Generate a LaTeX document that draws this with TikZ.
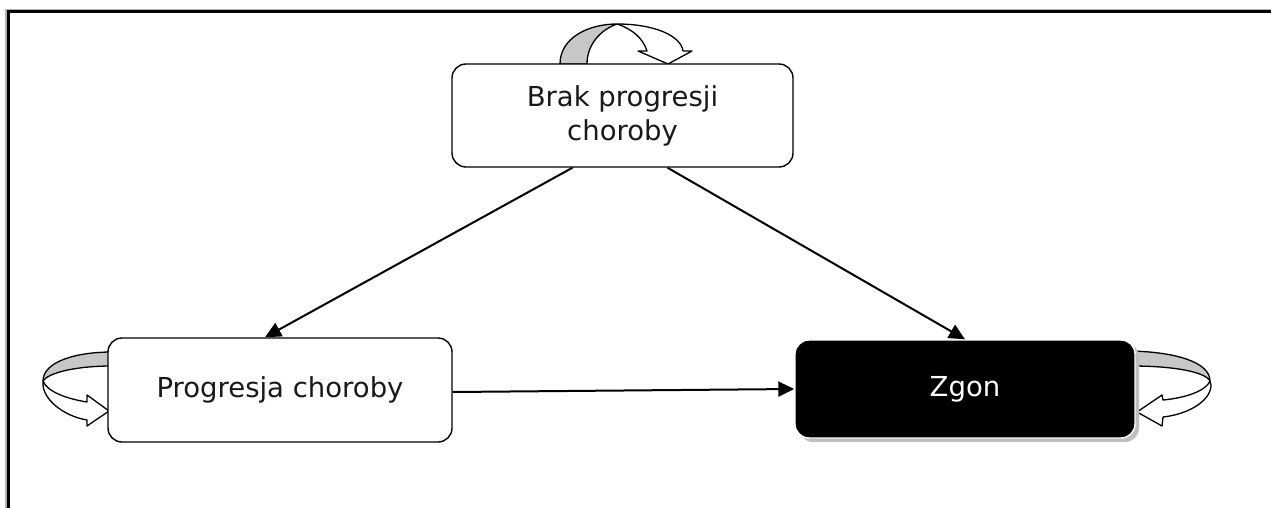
\documentclass[tikz,border=0pt]{standalone}
\usepackage{fontspec}
\setmainfont{DejaVu Sans}
\usetikzlibrary{arrows.meta}
\begin{document}
\begin{tikzpicture}[x=1pt,y=-1pt,
  box/.style={draw, line width=1.4pt, rounded corners=14pt, align=center,
    font=\fontsize{27.5}{34}\selectfont, text=black!90, inner sep=0pt},
  conn/.style={line width=2pt, -{Triangle[length=16pt,width=15pt]}},
  loopback/.style={draw, line width=1.3pt, fill=black!22, line join=round},
  loopfront/.style={draw, line width=1.3pt, fill=white, line join=round}]
\useasboundingbox (0,0) rectangle (1271,508);
% frame
\draw[black!30, line width=1.5pt] (6,508) -- (6,10) -- (1271,10);
\draw[line width=3pt] (8,508) -- (8,12) -- (1271,12);
% self loops
\draw[loopback] (560,64) .. controls (560,38) and (588,24) .. (617,24)
   .. controls (600,30) and (587,45) .. (587,64) -- cycle;
\draw[loopfront] (617,24) .. controls (655,24) and (681,36) .. (683,51)
   -- (692,51) -- (668,64) -- (638,51) -- (647,51)
   .. controls (643,38) and (632,29) .. (617,24) -- cycle;
\draw[loopback] (112,352) .. controls (75,352) and (43,362) .. (43,381)
   .. controls (48,373) and (75,366) .. (112,366) -- cycle;
\draw[loopfront] (43,381) .. controls (47,392) and (68,399) .. (87,402)
   -- (87,395) -- (109,411) -- (87,426) -- (87,420)
   .. controls (63,416) and (43,399) .. (43,384) -- cycle;
\draw[loopback] (1131,351) .. controls (1175,352) and (1210,362) .. (1210,381)
   .. controls (1205,372) and (1175,366) .. (1131,366) -- cycle;
\draw[loopfront] (1210,381) .. controls (1206,391) and (1185,398) .. (1163,400)
   -- (1162,395) -- (1137,412) -- (1162,426) -- (1163,417)
   .. controls (1190,414) and (1211,400) .. (1211,385) -- cycle;
% nodes
\node[box, fill=white, minimum width=341pt, minimum height=103pt] (brak) at (622.5,115.5)
  {Brak progresji\\choroby};
\node[box, fill=white, minimum width=344pt, minimum height=104pt] (prog) at (280,390)
  {Progresja choroby};
\fill[black!25, rounded corners=14pt] (799,343) rectangle (1139,442);
\node[box, fill=black, text=white, draw=white, minimum width=340pt, minimum height=98pt] (zgon) at (965,389)
  {Zgon};
% connectors
\draw[conn] ([xshift=-50pt]brak.south) -- ([xshift=-15pt]prog.north);
\draw[conn] ([xshift=45pt]brak.south) -- (zgon.north);
\draw[conn] ([yshift=-2pt]prog.east) -- (zgon.west);
\end{tikzpicture}
\end{document}
